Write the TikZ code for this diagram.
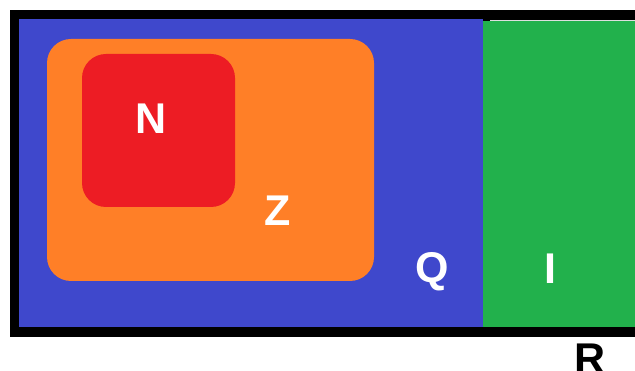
\documentclass[tikz,border=0pt]{standalone}
\usepackage{fontspec}
\setmainfont{Liberation Sans}
\definecolor{qblue}{HTML}{3F48CC}
\definecolor{qgreen}{HTML}{22B14C}
\definecolor{qorange}{HTML}{FF7F27}
\definecolor{qred}{HTML}{ED1C24}
\begin{document}
\begin{tikzpicture}[x=1pt,y=-1pt,
  lbl/.style={font=\fontsize{43}{43}\selectfont\bfseries, text=white, inner sep=0pt, anchor=base},
  setbox/.style={rounded corners=24pt}]
\useasboundingbox (0,0) rectangle (635,371);
\fill[white] (0,0) rectangle (635,371);
\fill[black] (10,10) rectangle (645,337);
\fill[qblue] (19,19) rectangle (483,327);
\fill[qgreen] (483,21) rectangle (645,327);
\draw[gray!25, line width=0.8pt] (490,20) -- (645,20);
\fill[qorange, setbox] (47,39) rectangle (374,281);
\fill[qred, setbox] (82,54) rectangle (235,207);
\node[lbl] (n) at (151.5,134) {N};
\node[lbl] (z) at (278,226) {Z};
\node[lbl] (q) at (432,283) {Q};
\node[lbl] (i) at (550,284) {I};
\node[lbl, text=black] (r) at (590.5,374) {R};
\end{tikzpicture}
\end{document}
